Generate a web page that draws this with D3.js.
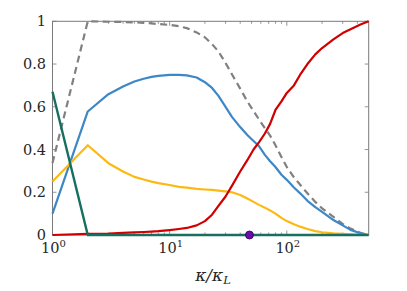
<!DOCTYPE html>
<html><head><meta charset="utf-8">
<script src="https://cdn.jsdelivr.net/npm/d3@7/dist/d3.min.js"></script>
<style>body{margin:0;background:#fff}svg{display:block}</style>
</head><body><svg id="c" width="407" height="291"></svg>
<script>
const kappa = [1,2,3,4,5,6,7,8,10,12,14,17,20,23,26,30,34,40,46,52,58,65,72,80,90,100,115,130,150,175,200,250,300,350,425,500];
const grayDashed = [0.337,1.0,0.998,0.997,0.995,0.993,0.99,0.987,0.983,0.977,0.968,0.948,0.925,0.893,0.86,0.805,0.752,0.685,0.625,0.58,0.54,0.50,0.465,0.42,0.365,0.318,0.27,0.235,0.195,0.155,0.125,0.085,0.052,0.03,0.01,0];
const blue = [0.10,0.578,0.659,0.695,0.718,0.731,0.74,0.745,0.749,0.749,0.747,0.737,0.715,0.688,0.652,0.60,0.553,0.505,0.468,0.44,0.415,0.375,0.345,0.318,0.282,0.258,0.222,0.195,0.16,0.13,0.108,0.07,0.045,0.024,0.008,0];
const yellow = [0.25,0.42,0.336,0.297,0.272,0.26,0.25,0.243,0.234,0.225,0.222,0.216,0.213,0.211,0.208,0.204,0.2,0.187,0.171,0.155,0.141,0.128,0.115,0.10,0.08,0.065,0.05,0.039,0.028,0.018,0.013,0.008,0.005,0.003,0.001,0];
const red = [0.0,0.005,0.007,0.01,0.012,0.014,0.016,0.018,0.023,0.028,0.033,0.045,0.065,0.095,0.135,0.18,0.23,0.297,0.35,0.40,0.435,0.475,0.52,0.585,0.625,0.665,0.70,0.75,0.80,0.845,0.875,0.915,0.945,0.963,0.985,1.0];
const green = [0.67,0,0,0,0,0,0,0,0,0,0,0,0,0,0,0,0,0,0,0,0,0,0,0,0,0,0,0,0,0,0,0,0,0,0,0];
const markerK = [48];
const markerY = [0];
const yTicks = [0,0.2,0.4,0.6,0.8,1];
const yTickLabels = ["0","0.2","0.4","0.6","0.8","1"];
const xTicks = [1,10,100];
const xTickExp = ["0","1","2"];

const svg = d3.select("#c");
const L=52.5,R=368.7,T=21.3,B=235;
const x = d3.scaleLog().domain([1,500]).range([L,R]);
const y = d3.scaleLinear().domain([0,1]).range([B,T]);
const axisCol="#7a7a7a", txtCol="#262626";
const FONT="DejaVu Serif";

const minor=[];
for (let e=0;e<3;e++) for (let m=2;m<10;m++){const v=m*Math.pow(10,e); if(v<500) minor.push(v);}
const g=svg.append("g");
minor.forEach(v=>{
  g.append("line").attr("x1",x(v)).attr("x2",x(v)).attr("y1",B).attr("y2",B-2.5).attr("stroke",axisCol).attr("stroke-width",0.8);
  g.append("line").attr("x1",x(v)).attr("x2",x(v)).attr("y1",T).attr("y2",T+2.5).attr("stroke",axisCol).attr("stroke-width",0.8);
});
xTicks.forEach(v=>{
  g.append("line").attr("x1",x(v)).attr("x2",x(v)).attr("y1",B).attr("y2",B-4.5).attr("stroke",axisCol).attr("stroke-width",0.8);
  g.append("line").attr("x1",x(v)).attr("x2",x(v)).attr("y1",T).attr("y2",T+4.5).attr("stroke",axisCol).attr("stroke-width",0.8);
});
yTicks.forEach(v=>{
  g.append("line").attr("x1",L).attr("x2",L+4).attr("y1",y(v)).attr("y2",y(v)).attr("stroke",axisCol).attr("stroke-width",0.8);
  g.append("line").attr("x1",R).attr("x2",R-4).attr("y1",y(v)).attr("y2",y(v)).attr("stroke",axisCol).attr("stroke-width",0.8);
});
svg.append("rect").attr("x",L).attr("y",T).attr("width",R-L).attr("height",B-T).attr("fill","none").attr("stroke",axisCol).attr("stroke-width",1);

yTicks.forEach((v,i)=>{
  svg.append("text").attr("x",46).attr("y",y(v)+5).attr("text-anchor","end").style("font-family",FONT).attr("font-size",14.5).attr("fill",txtCol).text(yTickLabels[i]);
});
xTicks.forEach((v,i)=>{
  const t=svg.append("text").attr("x",x(v)+1).attr("y",253).attr("text-anchor","middle").style("font-family",FONT).attr("font-size",14.5).attr("fill",txtCol);
  t.append("tspan").text("10");
  t.append("tspan").attr("dy",-6).attr("font-size",10).text(xTickExp[i]);
});
const xl=svg.append("text").attr("x",213).attr("y",281).attr("text-anchor","middle").style("font-family",FONT).attr("font-size",17).attr("fill",txtCol);
xl.append("tspan").attr("font-style","italic").text("κ/κ");
xl.append("tspan").attr("font-style","italic").attr("font-size",11.5).attr("dy",3).text("L");

const line = (vals)=>d3.line().x((d,i)=>x(kappa[i])).y(d=>y(d))(vals);
svg.append("path").attr("d",line(grayDashed)).attr("fill","none").attr("stroke","#808080").attr("stroke-width",2.2).attr("stroke-dasharray","7,4.5");
svg.append("path").attr("d",line(blue)).attr("fill","none").attr("stroke","#3d87c7").attr("stroke-width",2.2).attr("stroke-linejoin","round");
svg.append("path").attr("d",line(yellow)).attr("fill","none").attr("stroke","#fdb913").attr("stroke-width",2.2).attr("stroke-linejoin","round");
svg.append("path").attr("d",line(red)).attr("fill","none").attr("stroke","#d00000").attr("stroke-width",2.2).attr("stroke-linejoin","round");
svg.append("path").attr("d",line(green)).attr("fill","none").attr("stroke","#17705f").attr("stroke-width",2.4);
svg.selectAll("circle.m").data(markerK).enter().append("circle").attr("cx",d=>x(d)).attr("cy",(d,i)=>y(markerY[i])).attr("r",4).attr("fill","#6a0dad").attr("stroke","#2a0050").attr("stroke-width",0.8);
</script></body></html>
